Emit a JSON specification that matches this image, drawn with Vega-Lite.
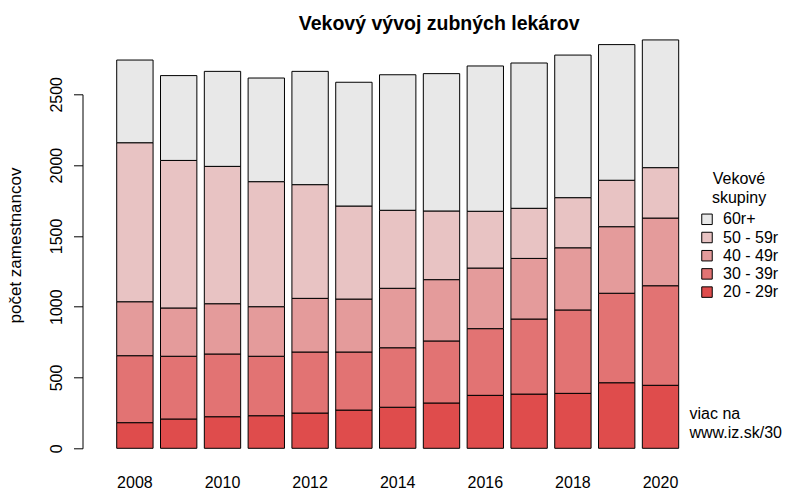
{
  "$schema": "https://vega.github.io/schema/vega-lite/v6.json",
  "autosize": "none",
  "padding": {"left": 82.5, "top": 94.3, "right": 74.1, "bottom": 42.7},
  "width": 630.4,
  "height": 354,
  "config": {
    "view": {"stroke": null},
    "font": "Liberation Sans",
    "axis": {"labelColor": "black", "titleColor": "black", "domainColor": "black", "tickColor": "black", "grid": false, "labelFontSize": 16, "titleFontSize": 16},
    "legend": {"labelColor": "black", "titleColor": "black", "labelFontSize": 16, "titleFontSize": 16},
    "title": {"fontSize": 19.5, "color": "black"}
  },
  "title": {
    "text": "Vekový vývoj zubných lekárov",
    "fontSize": 19.5,
    "fontWeight": "bold",
    "color": "black",
    "anchor": "middle",
    "baseline": "alphabetic",
    "dx": 41.5,
    "offset": -10.5
  },
  "data": {
    "values": [
      {"year": 2008, "grp": "20 - 29r", "n": 181},
      {"year": 2008, "grp": "30 - 39r", "n": 473},
      {"year": 2008, "grp": "40 - 49r", "n": 381},
      {"year": 2008, "grp": "50 - 59r", "n": 1123},
      {"year": 2008, "grp": "60r+", "n": 584},
      {"year": 2009, "grp": "20 - 29r", "n": 207},
      {"year": 2009, "grp": "30 - 39r", "n": 443},
      {"year": 2009, "grp": "40 - 49r", "n": 341},
      {"year": 2009, "grp": "50 - 59r", "n": 1042},
      {"year": 2009, "grp": "60r+", "n": 599},
      {"year": 2010, "grp": "20 - 29r", "n": 223},
      {"year": 2010, "grp": "30 - 39r", "n": 443},
      {"year": 2010, "grp": "40 - 49r", "n": 355},
      {"year": 2010, "grp": "50 - 59r", "n": 970},
      {"year": 2010, "grp": "60r+", "n": 671},
      {"year": 2011, "grp": "20 - 29r", "n": 230},
      {"year": 2011, "grp": "30 - 39r", "n": 420},
      {"year": 2011, "grp": "40 - 49r", "n": 350},
      {"year": 2011, "grp": "50 - 59r", "n": 883},
      {"year": 2011, "grp": "60r+", "n": 732},
      {"year": 2012, "grp": "20 - 29r", "n": 249},
      {"year": 2012, "grp": "30 - 39r", "n": 431},
      {"year": 2012, "grp": "40 - 49r", "n": 379},
      {"year": 2012, "grp": "50 - 59r", "n": 803},
      {"year": 2012, "grp": "60r+", "n": 800},
      {"year": 2013, "grp": "20 - 29r", "n": 270},
      {"year": 2013, "grp": "30 - 39r", "n": 410},
      {"year": 2013, "grp": "40 - 49r", "n": 374},
      {"year": 2013, "grp": "50 - 59r", "n": 657},
      {"year": 2013, "grp": "60r+", "n": 874},
      {"year": 2014, "grp": "20 - 29r", "n": 290},
      {"year": 2014, "grp": "30 - 39r", "n": 420},
      {"year": 2014, "grp": "40 - 49r", "n": 420},
      {"year": 2014, "grp": "50 - 59r", "n": 551},
      {"year": 2014, "grp": "60r+", "n": 957},
      {"year": 2015, "grp": "20 - 29r", "n": 320},
      {"year": 2015, "grp": "30 - 39r", "n": 438},
      {"year": 2015, "grp": "40 - 49r", "n": 433},
      {"year": 2015, "grp": "50 - 59r", "n": 485},
      {"year": 2015, "grp": "60r+", "n": 970},
      {"year": 2016, "grp": "20 - 29r", "n": 374},
      {"year": 2016, "grp": "30 - 39r", "n": 471},
      {"year": 2016, "grp": "40 - 49r", "n": 428},
      {"year": 2016, "grp": "50 - 59r", "n": 401},
      {"year": 2016, "grp": "60r+", "n": 1026},
      {"year": 2017, "grp": "20 - 29r", "n": 383},
      {"year": 2017, "grp": "30 - 39r", "n": 530},
      {"year": 2017, "grp": "40 - 49r", "n": 428},
      {"year": 2017, "grp": "50 - 59r", "n": 354},
      {"year": 2017, "grp": "60r+", "n": 1026},
      {"year": 2018, "grp": "20 - 29r", "n": 388},
      {"year": 2018, "grp": "30 - 39r", "n": 589},
      {"year": 2018, "grp": "40 - 49r", "n": 439},
      {"year": 2018, "grp": "50 - 59r", "n": 354},
      {"year": 2018, "grp": "60r+", "n": 1007},
      {"year": 2019, "grp": "20 - 29r", "n": 463},
      {"year": 2019, "grp": "30 - 39r", "n": 632},
      {"year": 2019, "grp": "40 - 49r", "n": 470},
      {"year": 2019, "grp": "50 - 59r", "n": 328},
      {"year": 2019, "grp": "60r+", "n": 958},
      {"year": 2020, "grp": "20 - 29r", "n": 445},
      {"year": 2020, "grp": "30 - 39r", "n": 703},
      {"year": 2020, "grp": "40 - 49r", "n": 478},
      {"year": 2020, "grp": "50 - 59r", "n": 356},
      {"year": 2020, "grp": "60r+", "n": 902}
    ]
  },
  "mark": {"type": "bar", "stroke": "black", "strokeWidth": 1},
  "encoding": {
    "x": {
      "field": "year",
      "type": "ordinal",
      "scale": {"paddingInner": 0.17, "paddingOuter": 0.781},
      "axis": {
        "values": [2008, 2010, 2012, 2014, 2016, 2018, 2020],
        "labelAngle": 0,
        "domain": false,
        "ticks": false,
        "tickSize": 0,
        "labelBaseline": "alphabetic",
        "labelPadding": 38.7,
        "labelFontSize": 16,
        "title": ["viac na", "www.iz.sk/30"],
        "titleX": 606.5,
        "titleY": -29.5,
        "titleAlign": "left",
        "titleAngle": 0,
        "titleBaseline": "alphabetic",
        "titleFontSize": 16,
        "titleFontWeight": "normal",
        "titleLineHeight": 19
      }
    },
    "y": {
      "field": "n",
      "type": "quantitative",
      "stack": "zero",
      "scale": {"domain": [0, 2500], "nice": false},
      "axis": {
        "values": [0, 500, 1000, 1500, 2000, 2500],
        "format": "d",
        "labelAngle": -90,
        "labelAlign": "center",
        "labelBaseline": "alphabetic",
        "labelFontSize": 16,
        "tickSize": 9,
        "labelPadding": 11.8,
        "title": "počet zamestnancov",
        "titleFontSize": 17,
        "titleFontWeight": "normal",
        "titleX": -62.5,
        "titleY": 150.7,
        "titleAngle": -90,
        "titleAlign": "center",
        "titleBaseline": "alphabetic"
      }
    },
    "color": {
      "field": "grp",
      "type": "nominal",
      "scale": {
        "domain": ["60r+", "50 - 59r", "40 - 49r", "30 - 39r", "20 - 29r"],
        "range": ["#e8e8e8", "#e8c3c3", "#e49b9b", "#e27373", "#df4c4c"]
      },
      "legend": {
        "orient": "none",
        "legendX": 616.5,
        "legendY": 77,
        "padding": 0,
        "title": ["Vekové", "skupiny"],
        "titleFontSize": 16,
        "titleFontWeight": "normal",
        "titleLineHeight": 19,
        "titleAnchor": "middle",
        "titleAlign": "center",
        "titlePadding": 5,
        "labelFontSize": 16,
        "labelOffset": 8,
        "symbolType": "square",
        "symbolSize": 110,
        "symbolStrokeColor": "black",
        "symbolStrokeWidth": 1,
        "rowPadding": 2.2
      }
    },
    "order": {"field": "grp", "sort": "ascending"}
  }
}
